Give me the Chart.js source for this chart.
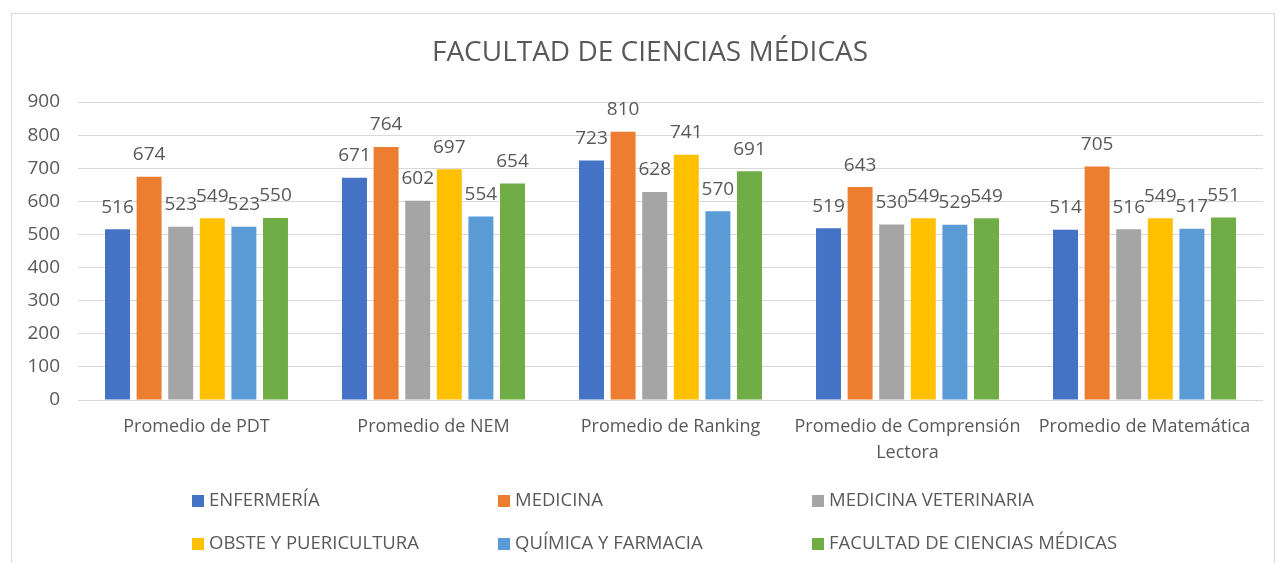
<!DOCTYPE html>
<html>
<head>
<meta charset="utf-8">
<script src="https://cdn.jsdelivr.net/npm/chart.js@4"></script>
<style>
  body { margin: 0; background: #fff; }
  #wrap { position: absolute; left: 11px; top: 13px; width: 1264px; height: 550px; border: 1px solid #d9d9d9; border-bottom: none; box-sizing: border-box; }
  canvas { display: block; }
</style>
</head>
<body>
<div id="wrap"><canvas id="chart" width="1262" height="549"></canvas></div>
<script>
// Categories and series
const categories = [
  'Promedio de PDT',
  'Promedio de NEM',
  'Promedio de Ranking',
  ['Promedio de Comprensión', 'Lectora'],
  'Promedio de Matemática'
];
const seriesNames = ['ENFERMERÍA', 'MEDICINA', 'MEDICINA VETERINARIA', 'OBSTE Y PUERICULTURA', 'QUÍMICA Y FARMACIA', 'FACULTAD DE CIENCIAS MÉDICAS'];
const enfermeria = [516, 671, 723, 519, 514];
const medicina = [674, 764, 810, 643, 705];
const veterinaria = [523, 602, 628, 530, 516];
const obstetricia = [549, 697, 741, 549, 549];
const quimica = [523, 554, 570, 529, 517];
const facultad = [550, 654, 691, 549, 551];
const yTicks = [0, 100, 200, 300, 400, 500, 600, 700, 800, 900];
const chartTitle = 'FACULTAD DE CIENCIAS MÉDICAS';

const colors = ['#4472C4', '#ED7D31', '#A5A5A5', '#FFC000', '#5B9BD5', '#70AD47'];
const allSeries = [enfermeria, medicina, veterinaria, obstetricia, quimica, facultad];
const FONT = '"Open Sans", sans-serif';
const TEXT = '#595959';

// Value labels above each bar
const valueLabels = {
  id: 'valueLabels',
  afterDatasetsDraw(chart) {
    const ctx = chart.ctx;
    ctx.save();
    ctx.font = '19px ' + FONT;
    ctx.fillStyle = TEXT;
    ctx.textAlign = 'center';
    ctx.textBaseline = 'middle';
    chart.data.datasets.forEach((ds, i) => {
      chart.getDatasetMeta(i).data.forEach((bar, j) => {
        ctx.fillText(ds.data[j], bar.x, bar.y - 22);
      });
    });
    ctx.restore();
  }
};

// Title, a bit left of the plot centre like the original
const titleText = {
  id: 'titleText',
  afterDraw(chart) {
    const ctx = chart.ctx;
    ctx.save();
    ctx.font = '28px ' + FONT;
    ctx.fillStyle = TEXT;
    ctx.textAlign = 'center';
    ctx.textBaseline = 'middle';
    ctx.fillText(chartTitle, 638, 39);
    ctx.restore();
  }
};

// Legend in three columns under the chart
const gridLegend = {
  id: 'gridLegend',
  afterDraw(chart) {
    const ctx = chart.ctx;
    const colX = [180, 486, 800];
    const rowY = [487, 530];
    ctx.save();
    ctx.font = '18.5px ' + FONT;
    ctx.textBaseline = 'middle';
    ctx.textAlign = 'left';
    chart.data.datasets.forEach((ds, i) => {
      const x = colX[i % 3];
      const y = rowY[Math.floor(i / 3)];
      ctx.fillStyle = ds.backgroundColor;
      ctx.fillRect(x, y - 6, 12, 12);
      ctx.fillStyle = TEXT;
      ctx.fillText(ds.label, x + 17, y);
    });
    ctx.restore();
  }
};

new Chart(document.getElementById('chart'), {
  type: 'bar',
  data: {
    labels: categories,
    datasets: seriesNames.map((name, i) => ({
      label: name,
      data: allSeries[i],
      backgroundColor: colors[i],
      categoryPercentage: 0.8,
      barPercentage: 0.79
    }))
  },
  plugins: [valueLabels, titleText, gridLegend],
  options: {
    responsive: false,
    animation: false,
    layout: { padding: { left: 0, right: 11, top: 88, bottom: 85 } },
    scales: {
      x: {
        grid: { display: false, drawTicks: false },
        border: { display: false },
        ticks: { color: TEXT, font: { family: FONT, size: 18, lineHeight: 1.44 }, padding: 14, maxRotation: 0, autoSkip: false },
        afterFit(scale) { scale.height = 78; }
      },
      y: {
        min: 0,
        max: 900,
        afterBuildTicks(scale) { scale.ticks = yTicks.map(v => ({ value: v })); },
        grid: { color: '#d9d9d9', drawTicks: false },
        border: { display: false },
        ticks: { color: TEXT, font: { family: FONT, size: 19 }, padding: 18 },
        afterFit(scale) { scale.width = 66; }
      }
    },
    plugins: {
      legend: { display: false },
      tooltip: { enabled: false },
      title: { display: false }
    }
  }
});
</script>
</body>
</html>
